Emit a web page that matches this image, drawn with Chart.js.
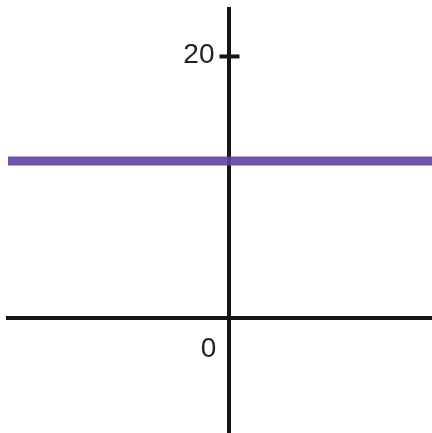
<!DOCTYPE html>
<html>
<head>
<meta charset="utf-8">
<script src="https://cdn.jsdelivr.net/npm/chart.js@4"></script>
<style>
  html, body { margin: 0; padding: 0; background: #fff; }
  #wrap { width: 432px; height: 433px; }
</style>
</head>
<body>
<div id="wrap"><canvas id="graph" width="432" height="433"></canvas></div>
<script>
// ==================== DATA ====================
const lineX = [-20, 20];
const lineY = [12, 12];
const yTickValues = [20];
const yTickLabels = ['20'];
const xTickValues = [0];
const xRange = [-16.95, 15.5];
const yRange = [-8.8, 23.63];

const AXIS_COLOR = '#161616';
const LABEL_FONT = '28px "Liberation Sans", Arial, sans-serif';

// y axis: tick mark centered on the axis + label to its left
// (Chart.js puts labels of a positioned y axis right on the line)
const yAxisDecor = {
  id: 'yAxisDecor',
  afterDatasetsDraw(chart) {
    const { ctx, scales } = chart;
    const x0 = scales.x.getPixelForValue(0);
    ctx.save();
    ctx.strokeStyle = AXIS_COLOR;
    ctx.lineWidth = 4;
    ctx.fillStyle = '#222';
    ctx.font = LABEL_FONT;
    ctx.textAlign = 'right';
    ctx.textBaseline = 'middle';
    yTickValues.forEach((v, i) => {
      const y = scales.y.getPixelForValue(v);
      ctx.beginPath();
      ctx.moveTo(x0 - 10, y);
      ctx.lineTo(x0 + 10, y);
      ctx.stroke();
      ctx.fillText(yTickLabels[i], x0 - 15, y - 1);
    });
    ctx.restore();
  }
};

new Chart(document.getElementById('graph'), {
  type: 'line',
  data: {
    datasets: [{
      data: lineX.map((x, i) => ({ x: x, y: lineY[i] })),
      borderColor: 'rgba(96, 66, 166, 0.9)',
      borderWidth: 9,
      pointRadius: 0,
      tension: 0
    }]
  },
  options: {
    responsive: false,
    animation: false,
    layout: { autoPadding: false, padding: { left: 8, top: 9, right: 0, bottom: 0 } },
    plugins: { legend: { display: false }, tooltip: { enabled: false } },
    scales: {
      x: {
        type: 'linear',
        position: { y: 0 },
        min: xRange[0],
        max: xRange[1],
        afterBuildTicks: s => { s.ticks = xTickValues.map(v => ({ value: v })); },
        grid: { display: false },
        border: { display: true, color: AXIS_COLOR, width: 4 },
        ticks: {
          color: '#222',
          font: { family: '"Liberation Sans", Arial, sans-serif', size: 28 },
          padding: 7,
          labelOffset: -21
        }
      },
      y: {
        type: 'linear',
        position: { x: 0 },
        min: yRange[0],
        max: yRange[1],
        afterBuildTicks: s => { s.ticks = yTickValues.map(v => ({ value: v })); },
        grid: { display: false },
        border: { display: true, color: AXIS_COLOR, width: 4 },
        ticks: { display: false }
      }
    }
  },
  plugins: [yAxisDecor]
});
</script>
</body>
</html>
